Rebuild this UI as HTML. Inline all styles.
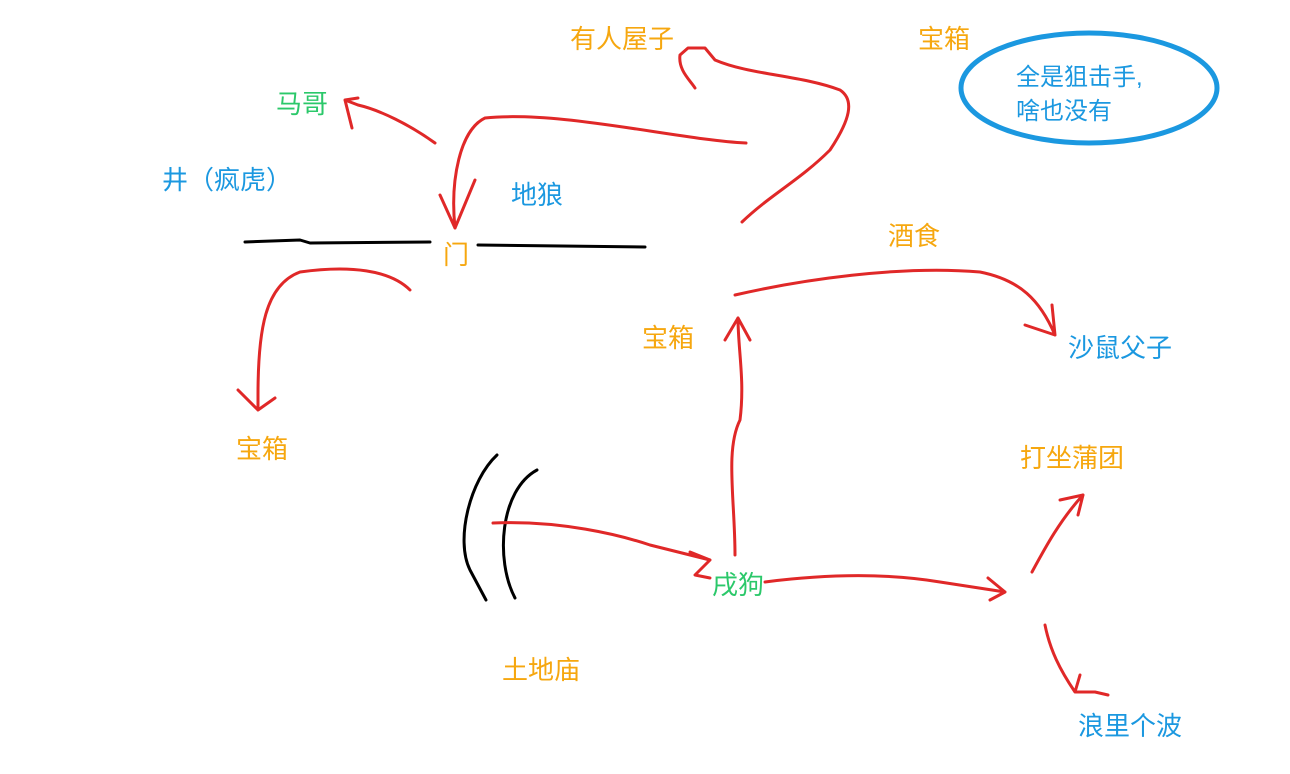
<!DOCTYPE html>
<html><head><meta charset="utf-8"><style>
html,body{margin:0;padding:0;background:#fff;}
body{width:1290px;height:774px;overflow:hidden;position:relative;}
.t{position:absolute;font-family:"Liberation Sans","Noto Sans CJK SC",sans-serif;font-size:26px;line-height:1;white-space:nowrap;}
.o{color:#f6a70f}.b{color:#1b98e0}.g{color:#2bc86a}
svg{position:absolute;left:0;top:0}
</style></head><body>
<svg width="1290" height="774" viewBox="0 0 1290 774" fill="none" stroke-linecap="round" stroke-linejoin="round">
<ellipse cx="1089" cy="88" rx="128" ry="55" stroke="#1b98e0" stroke-width="5"/>
<g stroke="#000" stroke-width="3">
<path d="M245 242 L300 240 L310 243 L430 242"/>
<path d="M478 245 L645 247"/>
<path d="M497 455 C470 480 455 540 470 570 L486 600"/>
<path d="M537 470 C500 490 495 560 515 598"/>
</g>
<g stroke="#e02828" stroke-width="3">
<path d="M435 143 C410 125 380 110 358 105 L345 100 M345 100 L358 98 M345 100 L352 128"/>
<path d="M746 143 C680 140 560 110 485 118 C460 130 450 180 455 228 M455 228 L440 195 M455 228 L475 180"/>
<path d="M742 222 C770 195 800 180 830 150 C850 120 855 100 840 90 C800 75 750 75 715 60 L705 48 L688 48 L680 55 C678 70 690 80 695 88"/>
<path d="M410 290 C390 270 350 265 300 272 C265 285 258 330 258 395 L258 410 M258 410 L238 390 M258 410 L275 398"/>
<path d="M735 295 C800 280 900 265 980 272 C1020 280 1040 300 1055 335 M1055 335 L1025 325 M1055 335 L1052 305"/>
<path d="M735 555 C735 500 725 450 740 420 C745 380 738 350 738 318 M738 318 L725 340 M738 318 L750 340"/>
<path d="M493 523 C560 520 620 535 650 545 L710 560 M710 560 L690 552 M710 560 L695 575 L710 578"/>
<path d="M765 582 C820 575 880 572 940 582 L1005 592 M1005 592 L988 578 M1005 592 L990 600"/>
<path d="M1032 572 C1045 548 1060 520 1083 495 M1083 495 L1060 500 M1083 495 L1078 515"/>
<path d="M1045 625 C1050 650 1060 670 1075 692 L1095 692 L1108 695 M1075 692 L1080 675"/>
</g>
</svg>
<div class="t o" style="left:570px;top:26px">有人屋子</div>
<div class="t o" style="left:918px;top:26px">宝箱</div>
<div class="t b" style="left:1016px;top:66px;font-size:24px">全是狙击手,</div>
<div class="t b" style="left:1016px;top:100px;font-size:24px">啥也没有</div>
<div class="t g" style="left:276px;top:91px">马哥</div>
<div class="t b" style="left:162px;top:167px">井（疯虎）</div>
<div class="t b" style="left:511px;top:182px">地狼</div>
<div class="t o" style="left:443px;top:242px">门</div>
<div class="t o" style="left:888px;top:223px">酒食</div>
<div class="t o" style="left:642px;top:325px">宝箱</div>
<div class="t b" style="left:1068px;top:335px">沙鼠父子</div>
<div class="t o" style="left:236px;top:436px">宝箱</div>
<div class="t o" style="left:1020px;top:445px">打坐蒲团</div>
<div class="t g" style="left:712px;top:572px">戌狗</div>
<div class="t o" style="left:502px;top:657px">土地庙</div>
<div class="t b" style="left:1078px;top:713px">浪里个波</div>
</body></html>
